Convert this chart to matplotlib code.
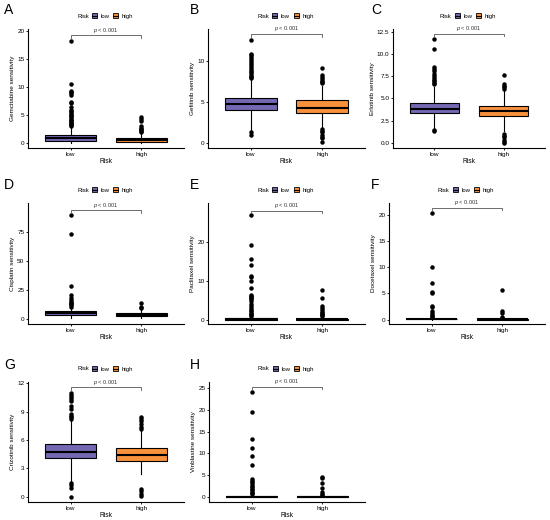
import matplotlib
matplotlib.use('Agg')
import matplotlib.pyplot as plt
from matplotlib.patches import Patch
from matplotlib.lines import Line2D
from matplotlib.legend_handler import HandlerTuple

plt.rcParams['font.family'] = ['Liberation Sans', 'DejaVu Sans']
plt.rcParams['mathtext.fontset'] = 'custom'
plt.rcParams['mathtext.rm'] = 'Liberation Sans'
plt.rcParams['mathtext.it'] = 'Liberation Sans:italic'

# --- data ---
letters = ['A', 'B', 'C', 'D', 'E', 'F', 'G', 'H']
drugs = ['Gemcitabine', 'Gefitinib', 'Erlotinib', 'Cisplatin',
         'Paclitaxel', 'Docetaxel', 'Crizotinib', 'Vinblastine']
groups = ['low', 'high']

low_q1 = [0.35, 4.05, 3.30, 4.0, 0.05, 0.02, 4.07, 0.02]
low_med = [0.85, 4.75, 3.86, 5.3, 0.15, 0.06, 4.78, 0.06]
low_q3 = [1.55, 5.55, 4.50, 6.8, 0.35, 0.15, 5.63, 0.15]
low_whislo = [0.0, 1.6, 1.6, 1.0, 0.0, 0.0, 1.7, 0.0]
low_whishi = [2.9, 7.7, 6.3, 10.5, 0.8, 0.35, 8.0, 0.35]
low_fliers = [
    [18.3, 10.6, 9.4, 9.1, 8.9, 8.6, 7.4, 7.2, 6.4, 6.0, 5.7, 5.5, 5.2, 5.0,
     4.8, 4.6, 4.4, 4.2, 4.0, 3.8, 3.6, 3.4, 3.2, 3.0],
    [12.5, 10.9, 10.7, 10.5, 10.2, 10.0, 9.8, 9.5, 9.3, 9.0, 8.8, 8.6, 8.4,
     8.2, 8.0, 7.9, 1.3, 1.0],
    [11.7, 10.6, 8.5, 8.3, 8.1, 7.8, 7.5, 7.3, 7.1, 7.0, 6.8, 6.6, 1.4, 1.3],
    [89.5, 73.0, 29.0, 20.7, 18.0, 16.5, 15.0, 14.0, 13.0, 12.0, 11.0],
    [26.8, 19.1, 15.5, 14.0, 11.2, 10.9, 10.0, 8.2, 6.4, 6.0, 5.8, 5.5, 5.2,
     4.8, 4.0, 3.5, 3.0, 2.6, 2.2, 1.8, 1.5, 1.2, 1.0],
    [20.4, 10.0, 6.9, 5.3, 5.1, 2.6, 2.4, 1.6, 1.2, 0.9, 0.7, 0.5],
    [11.0, 10.8, 10.6, 10.4, 10.1, 9.6, 9.3, 8.8, 8.6, 8.4, 8.2, 1.5, 1.3,
     0.9, 0.0],
    [24.1, 19.6, 13.4, 11.2, 9.4, 7.4, 4.0, 3.7, 3.4, 3.0, 2.5, 2.2, 1.9,
     1.6, 1.2, 0.9, 0.6],
]

high_q1 = [0.25, 3.65, 3.0, 3.0, 0.02, 0.01, 3.79, 0.01]
high_med = [0.5, 4.33, 3.56, 4.0, 0.08, 0.04, 4.42, 0.04]
high_q3 = [0.9, 5.2, 4.2, 5.5, 0.2, 0.1, 5.13, 0.1]
high_whislo = [0.0, 2.0, 1.3, 0.8, 0.0, 0.0, 2.4, 0.0]
high_whishi = [1.8, 7.0, 5.9, 9.0, 0.5, 0.25, 7.0, 0.25]
high_fliers = [
    [4.6, 4.3, 4.0, 3.0, 2.8, 2.6, 2.4, 2.2, 2.0],
    [9.1, 8.3, 8.1, 7.8, 7.6, 7.4, 7.3, 1.7, 1.5, 1.3, 1.0, 0.8, 0.6, 0.1],
    [7.7, 6.6, 6.4, 6.3, 6.1, 1.0, 0.8, 0.6, 0.3, 0.1, 0.0],
    [14.4, 11.0, 10.0],
    [7.6, 5.5, 3.6, 2.9, 2.4, 2.0, 1.7, 1.4, 1.1, 0.9],
    [5.7, 1.6, 1.3, 0.5, 0.3],
    [8.4, 8.2, 8.0, 7.7, 7.4, 7.2, 0.8, 0.6, 0.3, 0.1],
    [4.6, 4.4, 3.1, 2.1, 1.0, 0.7, 0.4],
]

yticks = [
    [0, 5, 10, 15, 20],
    [0, 5, 10],
    [0, 2.5, 5, 7.5, 10, 12.5],
    [0, 25, 50, 75],
    [0, 10, 20],
    [0, 5, 10, 15, 20],
    [0, 3, 6, 9, 12],
    [0, 5, 10, 15, 20, 25],
]
ylims = [(-0.85, 20.4), (-0.6, 13.9), (-0.6, 12.85), (-4, 100),
         (-1.1, 30), (-0.85, 22.3), (-0.55, 12.15), (-1.2, 26.4)]
bracket_y = [19.3, 13.3, 12.3, 93.7, 28.0, 21.4, 11.6, 25.3]
p_label = r'$p$ < 0.001'

# --- layout (pixels: left, top, right, bottom) ---
W, H = 550, 520
panel_px = [(28, 29, 184, 148), (208, 29, 365, 148), (393, 29, 545, 148),
            (28, 203, 184, 324), (208, 203, 365, 324), (389, 203, 545, 324),
            (28, 382, 184, 502), (209, 382, 365, 502)]
letter_px = [(4, 10), (190, 10), (371, 10), (4, 185), (190, 185), (371, 185),
             (4, 365), (190, 365)]
colors = {'low': '#7468B2', 'high': '#F8913C'}

fig = plt.figure(figsize=(W / 100, H / 100), dpi=100)

for i, drug in enumerate(drugs):
    l, t, r, b = panel_px[i]
    ax = fig.add_axes([l / W, 1 - b / H, (r - l) / W, (b - t) / H])

    stats = [
        dict(q1=low_q1[i], med=low_med[i], q3=low_q3[i],
             whislo=low_whislo[i], whishi=low_whishi[i], fliers=low_fliers[i]),
        dict(q1=high_q1[i], med=high_med[i], q3=high_q3[i],
             whislo=high_whislo[i], whishi=high_whishi[i], fliers=high_fliers[i]),
    ]
    bp = ax.bxp(stats, positions=[1, 2], widths=0.72, patch_artist=True,
                showcaps=False,
                boxprops=dict(edgecolor='black', linewidth=0.8),
                medianprops=dict(color='black', linewidth=1.5),
                whiskerprops=dict(color='black', linewidth=0.8),
                flierprops=dict(marker='o', markersize=2.2, markerfacecolor='black',
                                markeredgecolor='black', linestyle='none'))
    for patch, g in zip(bp['boxes'], groups):
        patch.set_facecolor(colors[g])

    ax.set_xlim(0.4, 2.6)
    ax.set_ylim(*ylims[i])
    ax.set_xticks([1, 2])
    ax.set_xticklabels(groups)
    ax.set_yticks(yticks[i])
    if i == 2:
        ax.set_yticklabels([f'{v:.1f}' for v in yticks[i]])
    else:
        ax.set_yticklabels([f'{v:g}' for v in yticks[i]])

    for s in ['top', 'right']:
        ax.spines[s].set_visible(False)
    for s in ['left', 'bottom']:
        ax.spines[s].set_linewidth(0.8)
    ax.tick_params(length=1.6, width=0.6, labelsize=4.6, pad=1, colors='black')
    ax.set_xlabel('Risk', fontsize=4.8, labelpad=0.8)
    ax.set_ylabel(f'{drug} sensitivity', fontsize=4.6, labelpad=1.5)

    # significance bracket
    yb = bracket_y[i]
    d = (ylims[i][1] - ylims[i][0]) * 0.022
    ax.plot([1, 1, 2, 2], [yb - d, yb, yb, yb - d], color='#555555', lw=0.6,
            clip_on=False)
    ax.text(1.5, yb + d * 0.2, p_label, ha='center', va='bottom', fontsize=4.1,
            color='#333333')

    # legend above panel
    cx = (l + r) / 2
    ly = t - 13
    fig.text((cx - 29) / W, 1 - ly / H, 'Risk', fontsize=4.3, ha='left', va='center')
    handles = [(Patch(facecolor=colors[g], edgecolor='black', linewidth=0.6),
                Line2D([], [], color='black', lw=0.8)) for g in groups]
    fig.legend(handles, groups, loc='center left',
               bbox_to_anchor=((cx - 14.5) / W, 1 - ly / H), ncol=2, frameon=False,
               fontsize=4.3, handlelength=0.9, handleheight=0.9, handletextpad=0.6,
               columnspacing=0.6, borderpad=0, borderaxespad=0,
               handler_map={tuple: HandlerTuple(ndivide=1)})

    lx, lyy = letter_px[i]
    fig.text(lx / W, 1 - lyy / H, letters[i], fontsize=10, ha='left', va='center')

fig.savefig('out.png', dpi=100)
